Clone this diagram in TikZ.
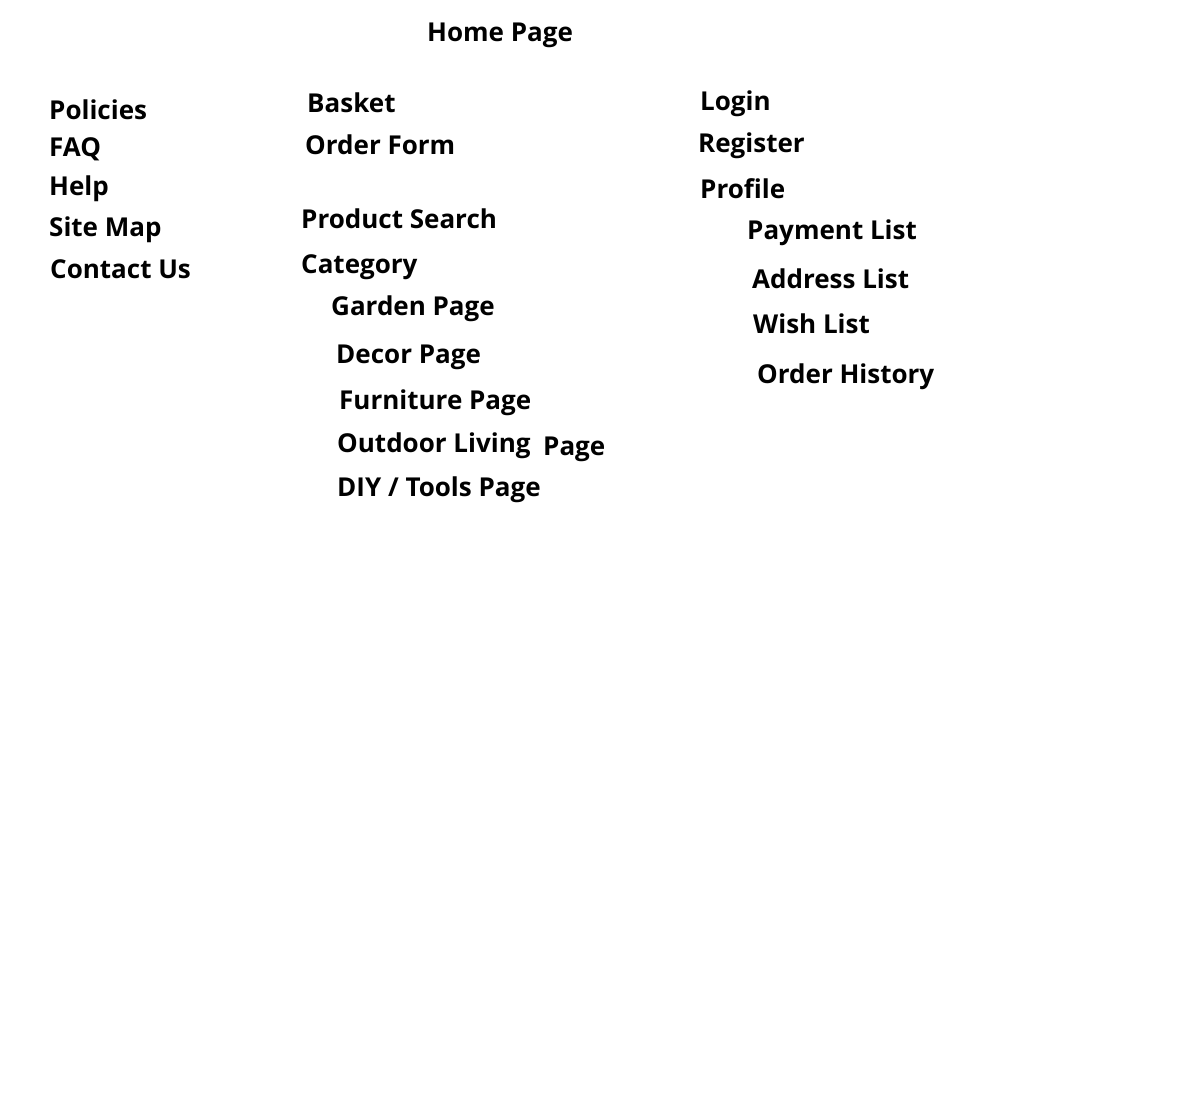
\documentclass[tikz,border=0pt]{standalone}
\usepackage{fontspec}
\setmainfont{Open Sans}
\tikzset{lbl/.style={anchor=base west, inner sep=0pt, font=\fontsize{26}{30}\selectfont\bfseries}}
\begin{document}
\begin{tikzpicture}[x=1pt,y=-1pt]
%page frame
\useasboundingbox (0,0) rectangle (1198,1118);

%top
\node[lbl] (home) at (427,42) {Home Page};

%left column
\node[lbl] (policies) at (49,120) {Policies};
\node[lbl] (faq) at (49,157) {FAQ};
\node[lbl] (help) at (49,195) {Help};
\node[lbl] (sitemap) at (49,236) {Site Map};
\node[lbl] (contact) at (50,278) {Contact Us};

%middle column
\node[lbl] (basket) at (307,113) {Basket};
\node[lbl] (orderform) at (305,155) {Order Form};
\node[lbl] (search) at (301,228) {Product Search};
\node[lbl] (category) at (301,273) {Category};
\node[lbl] (garden) at (331,315) {Garden Page};
\node[lbl] (decor) at (336,363) {Decor Page};
\node[lbl] (furniture) at (339,409) {Furniture Page};
\node[lbl] (outdoor) at (337,452) {Outdoor Living};
\node[lbl] (outdoorpage) at (543,455) {Page};
\node[lbl] (diy) at (337,496) {DIY / Tools Page};

%right column
\node[lbl] (login) at (700,111) {Login};
\node[lbl] (register) at (698,153) {Register};
\node[lbl] (profile) at (700,198) {Profile};
\node[lbl] (payment) at (747,239) {Payment List};
\node[lbl] (address) at (752,288) {Address List};
\node[lbl] (wish) at (753,333) {Wish List};
\node[lbl] (history) at (757,383) {Order History};

\end{tikzpicture}
\end{document}
